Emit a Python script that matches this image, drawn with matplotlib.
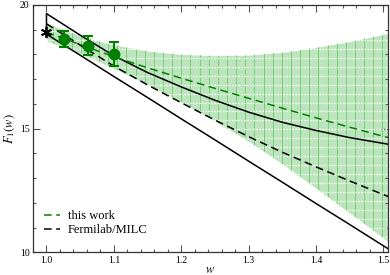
import numpy as np
import matplotlib
matplotlib.use('Agg')
import matplotlib.pyplot as plt
import matplotlib.ticker as mticker

plt.rcParams['font.family'] = 'Liberation Serif'
plt.rcParams['mathtext.fontset'] = 'stix'

# values
w_grid = [1.0, 1.05, 1.1, 1.15, 1.2, 1.25, 1.3, 1.35, 1.4, 1.45, 1.51]
this_center = [18.90, 18.40, 17.91, 17.46, 17.04, 16.63, 16.23, 15.83, 15.44, 15.06, 14.62]
this_upper = [19.25, 18.75, 18.38, 18.14, 18.00, 17.95, 17.97, 18.08, 18.28, 18.52, 18.86]
this_lower = [18.55, 18.05, 17.44, 16.78, 16.08, 15.31, 14.49, 13.58, 12.60, 11.60, 10.38]
fnal_center = [19.24, 18.38, 17.53, 16.77, 16.05, 15.35, 14.68, 14.05, 13.46, 12.89, 12.23]
fnal_upper = [19.65, 18.78, 17.95, 17.27, 16.69, 16.15, 15.67, 15.26, 14.93, 14.64, 14.36]
fnal_lower = [18.82, 17.97, 17.11, 16.26, 15.40, 14.55, 13.69, 12.84, 11.98, 11.13, 10.10]

pts_w = [1.026, 1.061, 1.10]
pts_f = [18.62, 18.36, 18.02]
pts_err = [0.32, 0.39, 0.50]
star_w, star_f = 1.0, 18.91

green = '#008000'

fig = plt.figure(figsize=(3.9, 2.75), dpi=100)
ax = fig.add_axes([0.0846, 0.082, 0.9103, 0.9])

band = ax.fill_between(w_grid, this_lower, this_upper, color='#bde5bd', lw=0, zorder=1)
clip = band.get_paths()[0]

# texture inside the band
vl = ax.vlines(np.arange(1.0102, 1.51, 0.01357), 10, 20, colors='#6cc86c', lw=0.6, zorder=2)
vl.set_clip_path(clip, ax.transData)
hl = ax.hlines(np.arange(10.25, 20, 0.363), 1.0, 1.51, colors='white', lw=0.9,
               linestyles=(0, (1.2, 1.2)), zorder=2)
hl.set_clip_path(clip, ax.transData)

# Fermilab/MILC outline
ax.plot(w_grid[::-1] + w_grid, fnal_upper[::-1] + fnal_lower, color='black', lw=1.1, zorder=3)
ax.plot(w_grid, fnal_center, color='black', lw=1.1, ls=(0, (5, 3)), zorder=3,
        label='Fermilab/MILC')
ax.plot(w_grid, this_center, color=green, lw=1.1, ls=(0, (5, 3)), zorder=4, label='this work')

ax.errorbar(pts_w, pts_f, yerr=pts_err, fmt='o', color=green, ms=7.5, capsize=3.5,
            elinewidth=1.5, capthick=1.5, zorder=5)
ax.plot([star_w], [star_f], marker=(6, 2, 0), color='black', ms=8, mew=1.3, ls='none', zorder=6)

ax.set_xlim(0.98, 1.507)
ax.set_ylim(10, 20)
ax.xaxis.set_major_locator(mticker.MultipleLocator(0.1))
ax.xaxis.set_minor_locator(mticker.MultipleLocator(0.02))
ax.yaxis.set_major_locator(mticker.MultipleLocator(5))
ax.yaxis.set_minor_locator(mticker.MultipleLocator(1))
ax.xaxis.set_major_formatter(mticker.FormatStrFormatter('%.1f'))
ax.tick_params(which='both', direction='in', top=True, right=True, color='#555555',
               labelsize=7, width=0.8, pad=2.5)
ax.tick_params(which='major', length=5)
ax.tick_params(which='minor', length=2.5)
for s in ax.spines.values():
    s.set_color('#333333')
    s.set_linewidth(0.9)

ax.set_xlabel('$w$', fontsize=9, labelpad=-1)
ax.set_ylabel('$F_1(w)$', fontsize=9, labelpad=2)

h, l = ax.get_legend_handles_labels()
ax.legend(h[::-1], l[::-1], loc='lower left', bbox_to_anchor=(0.0, 0.02), frameon=False,
          fontsize=9, handlelength=1.3, handletextpad=0.6, labelspacing=0.15)

fig.savefig('out.png', dpi=100)
